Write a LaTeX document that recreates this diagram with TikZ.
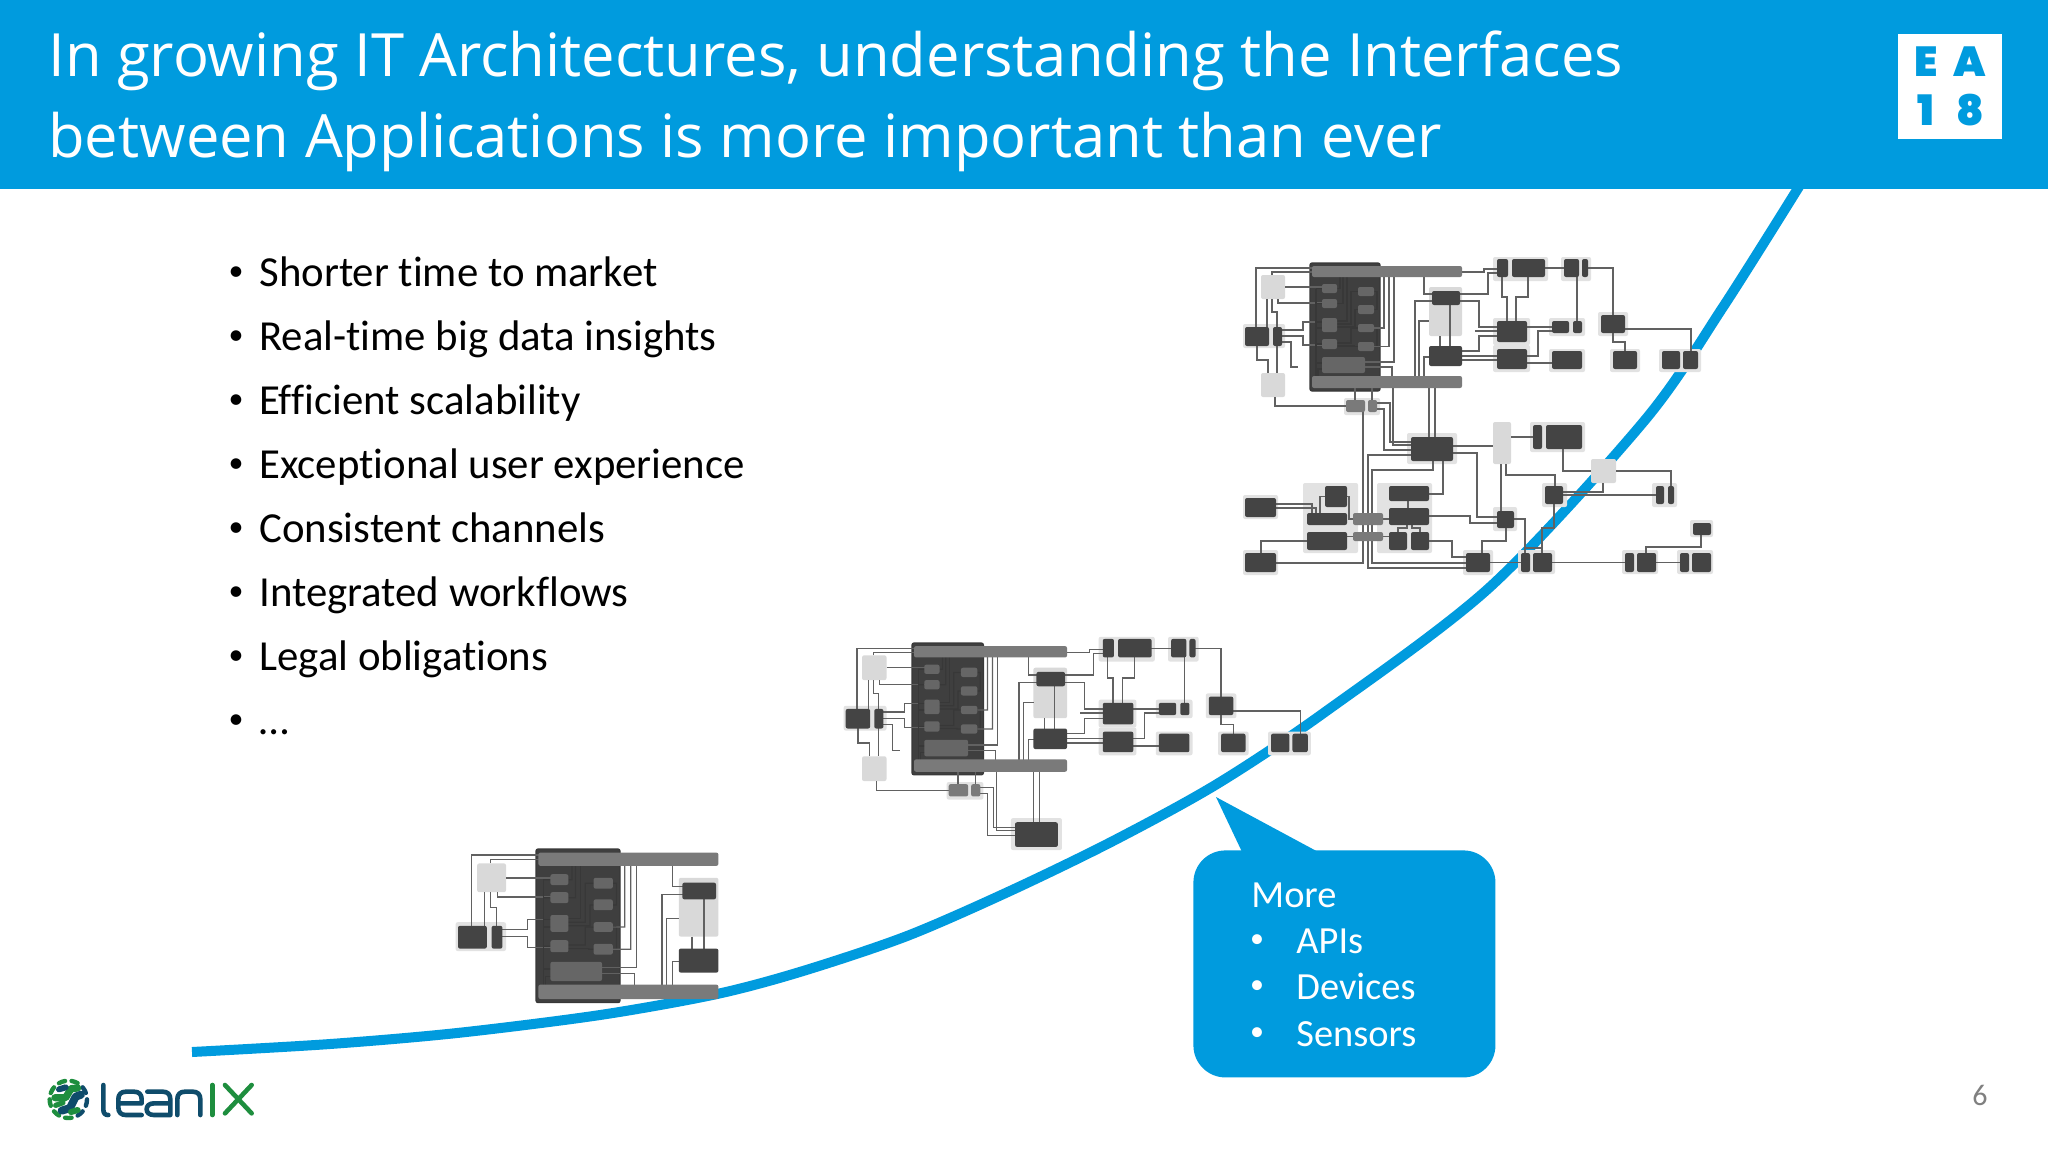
\documentclass[tikz,border=0pt]{standalone}
\usepackage{fontspec}
\setmainfont{Carlito}[Ligatures=NoCommon]
\newfontfamily\titlefont{Open Sans}
\newfontfamily\eafont{Poppins Black}
\pgfdeclarelayer{back}
\pgfdeclarelayer{wires}
\pgfsetlayers{back,wires,main}
\definecolor{eablue}{HTML}{009BDE}
\definecolor{darkb}{HTML}{444444}
\definecolor{midb}{HTML}{7A7A7A}
\definecolor{innerb}{HTML}{666666}
\definecolor{lightg}{HTML}{D9D9D9}
\definecolor{haloc}{HTML}{E2E2E2}
\definecolor{leanblue}{HTML}{0F4C6B}
\definecolor{leangreen}{HTML}{1E8E3E}
\tikzset{
 x=0.5pt,y=-0.5pt,
 wire/.style={draw=black!62,line width=0.62pt},
 innerw/.style={draw=black!78,line width=0.62pt},
 darkbox/.style={fill=darkb,rounded corners=1pt},
 midbox/.style={fill=midb,rounded corners=1pt},
 innerbox/.style={fill=innerb,rounded corners=1pt},
 lightbox/.style={fill=lightg,rounded corners=1pt},
 blockbox/.style={fill=darkb!92!black,draw=black!78,line width=0.6pt,rounded corners=1pt},
 halofill/.style={fill=haloc,rounded corners=1pt},
 titletext/.style={anchor=base west,text=white,inner sep=0pt,font=\titlefont\fontsize{29.85}{34}\selectfont},
 bullettext/.style={anchor=base west,text=black,inner sep=0pt,font=\fontsize{21.4}{26}\selectfont},
 bulletdot/.style={anchor=center,text=black,inner sep=0pt,font=\fontsize{15}{18}\selectfont},
 calltext/.style={anchor=base west,text=white,inner sep=0pt,font=\fontsize{19.2}{23}\selectfont},
 calldot/.style={anchor=center,text=white,inner sep=0pt,font=\fontsize{14}{18}\selectfont},
 eatext/.style={anchor=center,text=eablue,inner sep=0pt,font=\eafont\fontsize{21}{24}\selectfont},
 logoblue/.style={draw=leanblue,line width=2.3pt,line cap=round,line join=round},
 logogreen/.style={draw=leangreen,line width=2.3pt,line cap=round,line join=round},
}
\newcommand{\bx}[6]{%
 \pgfmathsetmacro\bxw{(#4-#2)*0.5}\pgfmathsetmacro\bxh{(#5-#3)*0.5}%
 \pgfmathsetmacro\bxx{(#2+#4)/2}\pgfmathsetmacro\bxy{(#3+#5)/2}%
 \node[#6,transform shape,inner sep=0pt,outer sep=0pt,minimum width=\bxw pt,minimum height=\bxh pt] (#1) at (\bxx,\bxy) {};}
\newcommand{\hl}[4]{\fill[halofill] (#1,#2) rectangle (#3,#4);}
\newcommand{\corepart}{%
 \begin{pgfonlayer}{back}
  \hl{1243}{324}{1285}{348}
  \bx{blk}{1310}{263}{1380}{391}{blockbox}
  \bx{L1}{1261}{275}{1285}{299}{lightbox}
  \bx{P0}{1429}{287}{1462}{336}{lightbox}
 \end{pgfonlayer}
 \bx{top}{1312}{266}{1462}{277}{midbox}
 \bx{bot}{1312}{376}{1462}{388}{midbox}
 \bx{a1}{1322}{284}{1337}{293}{innerbox}
 \bx{a2}{1322}{299}{1337}{308}{innerbox}
 \bx{a3}{1322}{318}{1337}{332}{innerbox}
 \bx{a4}{1322}{339}{1337}{349}{innerbox}
 \bx{a5}{1322}{357}{1365}{373}{innerbox}
 \bx{b1}{1358}{287}{1374}{296}{innerbox}
 \bx{b2}{1358}{305}{1374}{314}{innerbox}
 \bx{b3}{1358}{324}{1374}{332}{innerbox}
 \bx{b4}{1358}{342}{1374}{351}{innerbox}
 \bx{L2}{1245}{327}{1269}{346}{darkbox}
 \bx{L3}{1273}{327}{1282}{346}{darkbox}
 \bx{R1}{1432}{291}{1460}{305}{darkbox}
 \bx{R2}{1429}{346}{1462}{366}{darkbox}
 \begin{pgfonlayer}{wires}
  \draw[wire] (1256,0 |- L2) -- (1256,268) -- (top |- 0,268);
  \draw[wire] (1272,0 |- L1.north) -- (1272,272) -- (top |- 0,272);
  \draw[wire] (L1.east) -- (a1 |- L1);
  \draw[wire] (1278,0 |- L1.south) -- (1278,303) -- (a2 |- 0,303);
  \draw[wire] (1267,0 |- L1.south) -- (1267,0 |- L2);
  \draw[wire] (1272,0 |- L1.south) -- (1272,312) -- (1277,312) -- (1277,0 |- L3);
  \draw[wire] (L3 |- 0,330) -- (1303,330) -- (1303,322) -- (a3 |- 0,322);
  \draw[wire] (L3 |- 0,336) -- (1303,336) -- (1303,345) -- (a4 |- 0,345);
  \draw[innerw] (1316,0 |- a1) -- (1316,0 |- bot);
  \draw[innerw] (1316,0 |- a1) -- (a1);
  \draw[innerw] (1316,0 |- a2) -- (a2);
  \draw[innerw] (1316,322) -- (a3 |- 0,322);
  \draw[innerw] (1316,328) -- (a3 |- 0,328);
  \draw[innerw] (1316,0 |- a4) -- (a4);
  \draw[innerw] (1316,363) -- (a5 |- 0,363);
  \draw[innerw] (1318,0 |- bot) -- (1318,369) -- (a5 |- 0,369);
  \draw[innerw] (a1) -- (1340,0 |- a1) -- (1340,0 |- top);
  \draw[innerw] (a2) -- (1343,0 |- a2) -- (1343,0 |- top);
  \draw[innerw] (a3 |- 0,321) -- (1347,321) -- (1347,0 |- top);
  \draw[innerw] (a3 |- 0,324) -- (1351,324) -- (1351,0 |- b1) -- (b1);
  \draw[innerw] (a3 |- 0,327) -- (1355,327) -- (1355,0 |- b2) -- (b2);
  \draw[innerw] (a4 |- 0,343) -- (1351,343) -- (1351,0 |- b3) -- (b3);
  \draw[innerw] (a4 |- 0,346) -- (1354,346) -- (1354,0 |- b4) -- (b4);
  \draw[innerw] (b1) -- (1377,0 |- b1) -- (1377,0 |- b2) -- (b2);
  \draw[innerw] (b3) -- (1377,0 |- b3) -- (1377,0 |- b4) -- (b4);
  \draw[wire] (b3) -- (1384,0 |- b3) -- (1384,0 |- top);
  \draw[wire] (b4) -- (1389,0 |- b4) -- (1389,0 |- top);
  \draw[wire] (a5 |- 0,362) -- (1394,362) -- (1394,0 |- top);
  \draw[wire] (a5 |- 0,367) -- (1392,367) -- (1392,0 |- bot);
  \draw[wire] (1424,0 |- top) -- (1424,294) -- (R1 |- 0,294);
  \draw[wire] (1415,0 |- bot) -- (1415,301) -- (R1 |- 0,301);
  \draw[wire] (1419,0 |- bot) -- (1419,321) -- (P0.west |- 0,321);
  \draw[wire] (1424,0 |- bot) -- (1424,357) -- (R2 |- 0,357);
  \draw[wire] (1450,0 |- R1) -- (1450,0 |- R2);
  \draw[wire] (1440,0 |- P0.south) -- (1440,0 |- R2);
 \end{pgfonlayer}
}
\newcommand{\midpart}{%
 \begin{pgfonlayer}{back}
  \hl{1344}{398}{1380}{415}
  \hl{1407}{433}{1457}{464}
  \hl{1493}{257}{1548}{281}
  \hl{1561}{257}{1591}{281}
  \hl{1493}{318}{1530}{345}
  \hl{1493}{345}{1530}{372}
  \hl{1549}{318}{1585}{336}
  \hl{1549}{349}{1585}{372}
  \hl{1598}{312}{1628}{336}
  \hl{1610}{349}{1640}{372}
  \hl{1659}{349}{1701}{372}
  \bx{L4}{1261}{373}{1285}{397}{lightbox}
 \end{pgfonlayer}
 \bx{B1}{1346}{400}{1365}{412}{midbox}
 \bx{B2}{1368}{400}{1377}{412}{midbox}
 \bx{R3}{1411}{437}{1453}{461}{darkbox}
 \bx{n1}{1497}{259}{1508}{277}{darkbox}
 \bx{n1b}{1512}{259}{1545}{277}{darkbox}
 \bx{n2}{1564}{259}{1579}{277}{darkbox}
 \bx{n2b}{1582}{259}{1588}{277}{darkbox}
 \bx{p1}{1497}{321}{1527}{342}{darkbox}
 \bx{p2}{1497}{349}{1527}{369}{darkbox}
 \bx{q1}{1552}{321}{1569}{333}{darkbox}
 \bx{q1b}{1573}{321}{1582}{333}{darkbox}
 \bx{q2}{1552}{351}{1582}{369}{darkbox}
 \bx{r1}{1601}{315}{1625}{333}{darkbox}
 \bx{r2}{1613}{351}{1637}{369}{darkbox}
 \bx{s1}{1662}{351}{1680}{369}{darkbox}
 \bx{s2}{1683}{351}{1698}{369}{darkbox}
 \begin{pgfonlayer}{wires}
  \draw[wire] (1277,0 |- L3) -- (1277,0 |- L4.north);
  \draw[wire] (L3 |- 0,342) -- (1291,342) -- (1291,367) -- (1298,367);
  \draw[wire] (1257,0 |- L2) -- (1257,360) -- (1268,360) -- (1268,0 |- L4.north);
  \draw[wire] (1275,0 |- L4.south) -- (1275,406) -- (B1 |- 0,406);
  \draw[wire] (1355,0 |- bot) -- (1355,0 |- B1);
  \draw[wire] (1372,0 |- bot) -- (1372,0 |- B2);
  \draw[wire] (B2 |- 0,403) -- (1390,403) -- (1390,442) -- (R3 |- 0,442);
  \draw[wire] (B2 |- 0,409) -- (1384,409) -- (1384,450) -- (R3 |- 0,450);
  \draw[wire] (1393,0 |- bot) -- (1393,445) -- (R3 |- 0,445);
  \draw[wire] (1429,0 |- bot) -- (1429,0 |- R3);
  \draw[wire] (1435,0 |- bot) -- (1435,0 |- R3);
  \draw[wire] (top |- 0,272) -- (1484,272) -- (1484,269) -- (n1 |- 0,269);
  \draw[wire] (R1 |- 0,294) -- (1488,294) -- (1488,273) -- (n1 |- 0,273);
  \draw[wire] (R1 |- 0,301) -- (1479,301) -- (1479,327) -- (p1 |- 0,327);
  \draw[wire] (R2 |- 0,351) -- (1479,351) -- (1479,336) -- (p1 |- 0,336);
  \draw[wire] (R2 |- 0,356) -- (p2 |- 0,356);
  \draw[wire] (R2 |- 0,360) -- (p2 |- 0,360);
  \draw[wire] (1475,331) -- (p1 |- 0,331);
  \draw[wire] (1502,0 |- n1) -- (1502,297) -- (1507,297) -- (1507,0 |- p1);
  \draw[wire] (1528,0 |- n1b) -- (1528,297) -- (1516,297) -- (1516,0 |- p1);
  \draw[wire] (n1b |- 0,268) -- (n2 |- 0,268);
  \draw[wire] (n2b |- 0,268) -- (1613,268) -- (1613,0 |- r1);
  \draw[wire] (1577,0 |- n2) -- (1577,0 |- q1b);
  \draw[wire] (p1 |- 0,327) -- (q1 |- 0,327);
  \draw[wire] (p2 |- 0,356) -- (1538,356) -- (1538,331) -- (q1 |- 0,331);
  \draw[wire] (p2 |- 0,363) -- (q2 |- 0,363);
  \draw[wire] (1613,0 |- r1) -- (1613,342) -- (1625,342) -- (1625,0 |- r2);
  \draw[wire] (r1 |- 0,329) -- (1691,329) -- (1691,0 |- s2);
 \end{pgfonlayer}
}
\newcommand{\fullpart}{%
 \begin{pgfonlayer}{back}
  \hl{1303}{483}{1358}{553}
  \hl{1377}{483}{1432}{553}
  \hl{1243}{495}{1278}{519}
  \hl{1243}{550}{1278}{575}
  \hl{1493}{507}{1517}{531}
  \hl{1463}{550}{1493}{575}
  \hl{1518}{550}{1555}{574}
  \hl{1622}{550}{1658}{574}
  \hl{1677}{550}{1713}{574}
  \hl{1690}{520}{1713}{537}
  \hl{1652}{483}{1677}{507}
  \hl{1542}{483}{1567}{507}
  \hl{1530}{422}{1585}{452}
  \bx{T1}{1493}{422}{1511}{464}{lightbox}
  \bx{j1}{1591}{459}{1616}{483}{lightbox}
 \end{pgfonlayer}
 \bx{c0}{1245}{498}{1276}{517}{darkbox}
 \bx{c9}{1245}{553}{1276}{572}{darkbox}
 \bx{c1}{1325}{486}{1347}{507}{darkbox}
 \bx{c2}{1307}{513}{1347}{525}{darkbox}
 \bx{c3}{1307}{532}{1347}{550}{darkbox}
 \bx{m1}{1353}{513}{1383}{525}{midbox}
 \bx{m2}{1353}{532}{1383}{541}{midbox}
 \bx{d1}{1389}{486}{1429}{501}{darkbox}
 \bx{d2}{1389}{508}{1429}{525}{darkbox}
 \bx{d3}{1389}{532}{1407}{550}{darkbox}
 \bx{d4}{1411}{532}{1429}{550}{darkbox}
 \bx{e1}{1497}{511}{1514}{528}{darkbox}
 \bx{e2}{1466}{553}{1490}{572}{darkbox}
 \bx{f1}{1521}{553}{1530}{572}{darkbox}
 \bx{f2}{1533}{553}{1552}{572}{darkbox}
 \bx{g1}{1625}{553}{1634}{572}{darkbox}
 \bx{g2}{1637}{553}{1656}{572}{darkbox}
 \bx{g3}{1680}{553}{1689}{572}{darkbox}
 \bx{g4}{1692}{553}{1711}{572}{darkbox}
 \bx{h1}{1693}{523}{1711}{535}{darkbox}
 \bx{k1}{1656}{486}{1664}{504}{darkbox}
 \bx{k2}{1668}{486}{1674}{504}{darkbox}
 \bx{i1}{1545}{486}{1563}{504}{darkbox}
 \bx{l1}{1533}{425}{1542}{449}{darkbox}
 \bx{l2}{1546}{425}{1582}{449}{darkbox}
 \begin{pgfonlayer}{wires}
  \draw[wire] (R3 |- 0,446) -- (T1.west |- 0,446);
  \draw[wire] (R3 |- 0,453) -- (1477,453) -- (1477,517) -- (e1 |- 0,517);
  \draw[wire] (c0 |- 0,504) -- (1312,504) -- (1312,0 |- c2);
  \draw[wire] (c0 |- 0,508) -- (1316,508) -- (1316,0 |- c2);
  \draw[wire] (c1) -- (1320,0 |- c1) -- (1320,0 |- c2);
  \draw[wire] (c1) -- (1349,0 |- c1) -- (1349,0 |- c2) -- (m1 |- c2);
  \draw[wire] (c3 |- m2) -- (m2);
  \draw[wire] (c3 |- 0,541) -- (1261,541) -- (1261,0 |- c9);
  \draw[wire] (c9 |- 0,563) -- (1363,563) -- (1363,0 |- B1);
  \draw[wire] (R3 |- 0,455) -- (1368,455) -- (1368,568) -- (e2 |- 0,568);
  \draw[wire] (1433,0 |- R3) -- (1433,470) -- (1372,470) -- (1372,563) -- (e2 |- 0,563);
  \draw[wire] (1443,0 |- R3) -- (1443,494) -- (d1 |- 0,494);
  \draw[wire] (1408,0 |- d1) -- (1408,0 |- d2);
  \draw[wire] (m1) -- (d2 |- m1);
  \draw[wire] (m2) -- (d3 |- m2);
  \draw[wire] (1398,0 |- d3) -- (1398,528) -- (1407,528) -- (1407,0 |- d2);
  \draw[wire] (1420,0 |- d4) -- (1420,528) -- (1412,528) -- (1412,0 |- d2);
  \draw[wire] (d2 |- 0,516) -- (1470,516) -- (1470,523) -- (e1 |- 0,523);
  \draw[wire] (d4 |- 0,541) -- (1452,541) -- (1452,557) -- (e2 |- 0,557);
  \draw[wire] (e2) -- (f1);
  \draw[wire] (T1.east |- 0,437) -- (l1 |- 0,437);
  \draw[wire] (1563,0 |- l2) -- (1563,471) -- (j1.west);
  \draw[wire] (j1.east) -- (1671,0 |- j1) -- (1671,0 |- k2);
  \draw[wire] (1603,0 |- j1.south) -- (1603,492) -- (i1 |- 0,492);
  \draw[wire] (i1 |- 0,495) -- (k1 |- 0,495);
  \draw[wire] (1506,0 |- T1.south) -- (1506,475) -- (1555,475) -- (1555,0 |- i1);
  \draw[wire] (1501,0 |- T1.south) -- (1501,0 |- e1);
  \draw[wire] (1554,0 |- i1) -- (1554,528) -- (1542,528) -- (1542,0 |- f2);
  \draw[wire] (1542,0 |- f2) -- (1542,548) -- (1525,548);
  \draw[wire] (e1 |- 0,519) -- (1525,519) -- (1525,0 |- f1);
  \draw[wire] (1506,0 |- e1) -- (1506,541) -- (1482,541) -- (1482,0 |- e2);
  \draw[wire] (f2) -- (g1);
  \draw[wire] (g2) -- (g3);
  \draw[wire] (1646,0 |- g2) -- (1646,547) -- (1701,547) -- (1701,0 |- h1);
 \end{pgfonlayer}
}
\begin{document}
\begin{tikzpicture}
\useasboundingbox (0,0) rectangle (2048,1152);
\begin{pgfonlayer}{back}
 \fill[white] (0,0) rectangle (2048,1152);
 \draw[eablue,line width=5pt] plot[smooth,tension=0.5] coordinates {(192,1052) (330,1044) (457,1033) (600,1015) (717,994) (803,971) (907,936) (1010,891) (1113,841) (1217,784) (1325,712) (1490,587) (1645,420) (1723,307) (1800,185)};
\end{pgfonlayer}
% header
\node[fill=eablue,anchor=north west,inner sep=0pt,minimum width=1024pt,minimum height=94.5pt] (header) at (0,0) {};
\node[titletext] (title1) at (48,76) {In growing IT Architectures, understanding the Interfaces};
\node[titletext] (title2) at (48,157) {between Applications is more important than ever};
\node[fill=white,inner sep=0pt,minimum width=52pt,minimum height=52.5pt] (eabox) at (1950,86.5) {};
\node[eatext] (eaE) at (1926,62) {E};
\node[eatext] (eaA) at (1970,62) {A};
\node[eatext] (eaI) at (1926,110) {1};
\node[eatext] (eaH) at (1970,110) {8};
% bullets
\foreach \yy/\zz/\nm/\tx in {286/274/t1/Shorter time to market,350/338/t2/Real-time big data insights,414/402/t3/Efficient scalability,478/466/t4/Exceptional user experience,542/530/t5/Consistent channels,606/594/t6/Integrated workflows,670/658/t7/Legal obligations,734/722/t8/…}{
 \node[bulletdot] (d\nm) at (236,\zz) {•};
 \node[bullettext] (\nm) at (259,\yy) {\tx};
}
% diagrams
\begin{scope}[name prefix=s1-,shift={(536,849)},scale=1.2,shift={(-1310,-263)}]
 \corepart
\end{scope}
\begin{scope}[name prefix=s2-,shift={(912,643)},xscale=1.02,yscale=1.03,shift={(-1310,-263)}]
 \corepart
 \midpart
\end{scope}
\begin{scope}[name prefix=s3-]
 \corepart
 \midpart
 \fullpart
\end{scope}
% callout
\fill[eablue] (1216,797) -- (1243,854) -- (1322,854) -- cycle;
\node[fill=eablue,rounded corners=16pt,inner sep=0pt,anchor=north west,minimum width=151pt,minimum height=113.5pt] (callout) at (1193,850) {};
\node[calltext] (cmore) at (1251,907) {More};
\foreach \yy/\zz/\nm/\tx in {953/941/capi/APIs,999/987/cdev/Devices,1046/1034/csen/Sensors}{
 \node[calldot] (d\nm) at (1257,\zz) {•};
 \node[calltext] (\nm) at (1296,\yy) {\tx};
}
% page number
\node[anchor=base,inner sep=0pt,text=black!50,font=\fontsize{15}{18}\selectfont] (pageno) at (1980,1105) {6};
% logo
\begin{scope}[shift={(20,1050)},scale=1/3]
 \draw[logoblue] (250,105) -- (250,178) .. controls (250,190) and (255,195) .. (265,195);
 \draw[logoblue] (365,195) -- (318,195) .. controls (303,195) and (295,187) .. (295,172) -- (295,148) .. controls (295,133) and (303,125) .. (318,125) -- (342,125) .. controls (357,125) and (365,133) .. (365,148) -- (365,160) -- (297,160);
 \draw[logoblue] (382,125) -- (428,125) .. controls (443,125) and (451,133) .. (451,148) -- (451,195) -- (402,195) .. controls (387,195) and (380,187) .. (380,178) .. controls (380,168) and (387,160) .. (402,160) -- (450,160);
 \draw[logoblue] (472,195) -- (472,148) .. controls (472,133) and (480,125) .. (495,125) -- (518,125) .. controls (533,125) and (541,133) .. (541,148) -- (541,195);
 \draw[logogreen] (577,105) -- (577,195);
 \draw[logogreen] (615,105) -- (695,190);
 \draw[logogreen] (695,105) -- (615,190);
 \begin{scope}[shift={(145,148)}]
  \foreach \aa/\cc in {-120/logogreen,-80/logogreen,-40/logoblue,0/logoblue,40/logoblue,80/logogreen,120/logogreen,160/logogreen,200/logogreen}{
   \draw[\cc,line width=2.2pt] (\aa:56) arc[start angle=\aa,end angle=\aa+20,radius=56];
  }
  \draw[logogreen,line width=3.6pt] (-40,-5) -- (-8,-5) -- (8,-32) -- (28,-34);
  \draw[logoblue,line width=4pt] (-20,34) -- (5,26) -- (22,-8) -- (38,-14);
  \draw[logoblue,line width=3pt] (-28,-30) -- (-8,-36);
  \draw[logogreen,line width=3pt] (8,38) -- (28,32);
  \draw[logogreen,line width=2.6pt] (-38,18) -- (-16,10);
 \end{scope}
\end{scope}
\end{tikzpicture}
\end{document}
